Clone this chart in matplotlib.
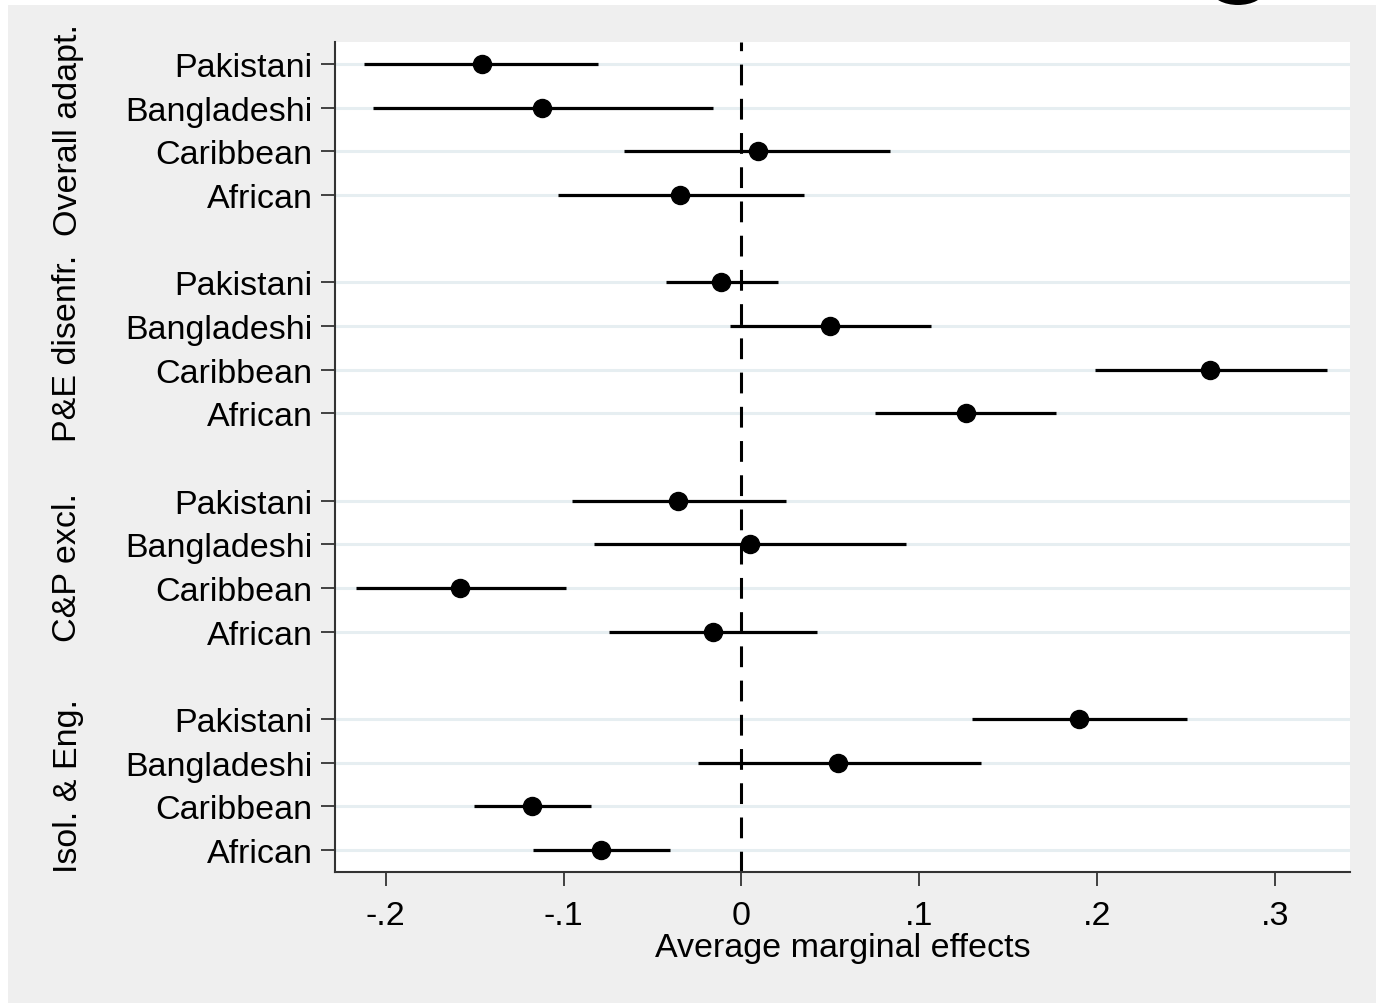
import matplotlib
matplotlib.use("Agg")
import matplotlib.pyplot as plt
import matplotlib.patches as mpatches
import matplotlib.transforms as mtransforms
import numpy as np

# ── Data ────────────────────────────────────────────────────────────────────
groups = ["Overall adapt.", "P&E disenfr.", "C&P excl.", "Isol. & Eng."]
origins = ["Pakistani", "Bangladeshi", "Caribbean", "African"]

# average marginal effects, one list per outcome (same order as origins)
ame_overall = [-0.1458, -0.1120, 0.0093, -0.0346]
ame_pe      = [-0.0117, 0.0497, 0.2631, 0.1261]
ame_cp      = [-0.0356, 0.0046, -0.1583, -0.0162]
ame_ie      = [0.1896, 0.0542, -0.1177, -0.0787]

lo_overall = [-0.2121, -0.2070, -0.0660, -0.1031]
hi_overall = [-0.0806, -0.0160, 0.0837, 0.0350]
lo_pe      = [-0.0424, -0.0065, 0.1986, 0.0750]
hi_pe      = [0.0203, 0.1062, 0.3289, 0.1769]
lo_cp      = [-0.0954, -0.0830, -0.2165, -0.0746]
hi_cp      = [0.0250, 0.0924, -0.0986, 0.0422]
lo_ie      = [0.1294, -0.0243, -0.1504, -0.1171]
hi_ie      = [0.2501, 0.1347, -0.0844, -0.0402]

xticks = [-0.2, -0.1, 0.0, 0.1, 0.2, 0.3]
xticklabels = ["-.2", "-.1", "0", ".1", ".2", ".3"]

ame = [ame_overall, ame_pe, ame_cp, ame_ie]
lo = [lo_overall, lo_pe, lo_cp, lo_ie]
hi = [hi_overall, hi_pe, hi_cp, hi_ie]

# ── Style ───────────────────────────────────────────────────────────────────
plt.rcParams["font.family"] = ["Liberation Sans", "DejaVu Sans"]
BG_GRAY = "#efefef"
GRID = "#e6eef1"
FS = 24.5

fig = plt.figure(figsize=(13.76, 10.04), dpi=100)
fig.patch.set_facecolor("white")
# stata-like grey outer region (thin white strip top/left)
fig.patches.append(mpatches.Rectangle((8 / 1376, 0), 1, 1 - 6 / 1004,
                                      transform=fig.transFigure,
                                      facecolor=BG_GRAY, edgecolor="none", zorder=-5))
# cut-off black badge at top edge
fig.patches.append(mpatches.Ellipse((1238 / 1376, 1 + 8 / 1004), 52 / 1376, 28 / 1004,
                                    transform=fig.transFigure,
                                    facecolor="black", edgecolor="none", zorder=-4))

ax = fig.add_axes([335 / 1376, 1 - 873 / 1004, (1350 - 335) / 1376, (873 - 43) / 1004])
ax.set_facecolor("white")

# row positions: 4 rows per group, one empty row between groups
ypos, ylabels = [], []
for g in range(len(groups)):
    for i in range(len(origins)):
        ypos.append(g * 5 + i)
        ylabels.append(origins[i])

for g in range(len(groups)):
    ys = [g * 5 + i for i in range(len(origins))]
    for y, l, h in zip(ys, lo[g], hi[g]):
        ax.plot([l, h], [y, y], color="black", lw=2.3, solid_capstyle="butt", zorder=3)
    ax.plot(ame[g], ys, "o", color="black", markersize=13, zorder=4)

for y in ypos:
    ax.axhline(y, color=GRID, lw=2.2, zorder=1)

ax.axvline(0, color="black", lw=2.2, linestyle=(0, (6.8, 4.4)), zorder=2)

ax.set_xlim(-0.2284, 0.3419)
ax.set_ylim(18.5, -0.5)
ax.set_yticks(ypos)
ax.set_yticklabels(ylabels, fontsize=FS)
ax.set_xticks(xticks)
ax.set_xticklabels(xticklabels, fontsize=FS)
ax.tick_params(axis="y", length=10, width=1.3, pad=6, color="#333333")
ax.tick_params(axis="x", length=10, width=1.3, pad=10, color="#333333")
ax.set_xlabel("Average marginal effects", fontsize=FS, labelpad=1)

ax.spines[["top", "right"]].set_visible(False)
ax.spines[["left", "bottom"]].set_color("#333333")
ax.spines[["left", "bottom"]].set_linewidth(1.5)

# group labels on the far left
trans = mtransforms.blended_transform_factory(fig.transFigure, ax.transData)
for g, name in enumerate(groups):
    yc = g * 5 + 1.5
    ax.text(68 / 1376, yc, name, transform=trans, rotation=90,
            ha="center", va="center", fontsize=FS, clip_on=False)

fig.savefig("out.png", dpi=100, facecolor=fig.get_facecolor())
